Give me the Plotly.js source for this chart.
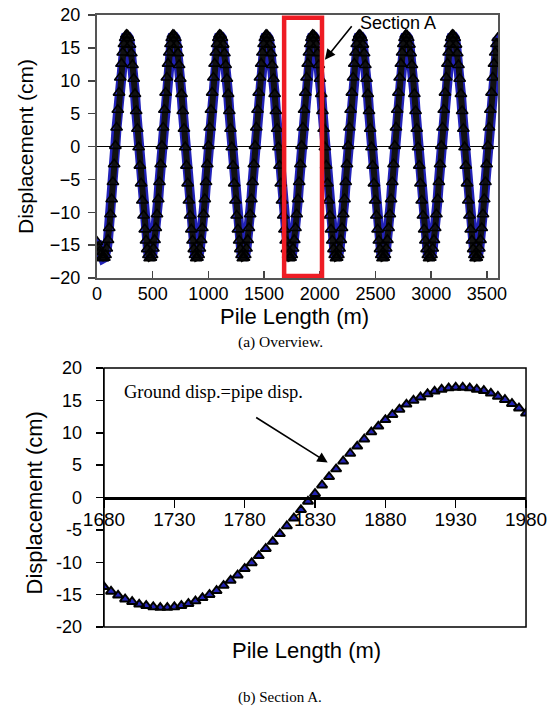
<!DOCTYPE html>
<html>
<head>
<meta charset="utf-8">
<script src="https://cdn.plot.ly/plotly-3.0.1.min.js"></script>
<style>
html,body{margin:0;padding:0;background:#fff;}
#chart{width:558px;height:708px;}
</style>
</head>
<body>
<div id="chart"></div>
<script>
// ---------- DATA ----------
// (a) Overview: displacement sampled every 11 m from 0 m (ground disp. = pipe disp.)
const overviewStartM = 0;
const overviewStepM = 11;
const overviewDisp = [
-14.5,-15.3,-16.0,-16.5,-16.9,-17.0,-16.9,-16.5,-15.5,-14.2,-12.4,-10.3,-8.0,-5.4,-2.7,0.1,2.9,5.6,8.2,10.5,12.6,14.3,15.6,16.5,17.0,16.9,16.5,15.5,14.2,12.4,10.3,8.0,5.4,2.7,-0.1,-2.9,-5.6,-8.2,
-10.5,-12.6,-14.3,-15.6,-16.5,-17.0,-16.9,-16.5,-15.5,-14.2,-12.4,-10.3,-8.0,-5.4,-2.7,0.1,2.9,5.6,8.2,10.5,12.6,14.3,15.6,16.5,17.0,16.9,16.5,15.5,14.2,12.4,10.3,8.0,5.4,2.7,-0.1,-2.9,-5.6,-8.2,
-10.5,-12.6,-14.3,-15.6,-16.5,-17.0,-16.9,-16.5,-15.5,-14.2,-12.4,-10.3,-8.0,-5.4,-2.7,0.1,2.9,5.6,8.2,10.5,12.6,14.3,15.6,16.5,17.0,16.9,16.5,15.5,14.2,12.4,10.3,8.0,5.4,2.7,-0.1,-2.9,-5.6,-8.2,
-10.5,-12.6,-14.3,-15.6,-16.5,-17.0,-16.9,-16.5,-15.5,-14.2,-12.4,-10.3,-8.0,-5.4,-2.7,0.1,2.9,5.6,8.2,10.5,12.6,14.3,15.6,16.5,17.0,16.9,16.5,15.5,14.2,12.4,10.3,8.0,5.4,2.7,-0.1,-2.9,-5.6,-8.2,
-10.5,-12.6,-14.3,-15.6,-16.5,-17.0,-16.9,-16.5,-15.5,-14.2,-12.4,-10.3,-8.0,-5.4,-2.7,0.1,2.9,5.6,8.2,10.5,12.6,14.3,15.6,16.5,17.0,16.9,16.5,15.5,14.2,12.4,10.3,8.0,5.4,2.7,-0.1,-2.9,-5.6,-8.2,
-10.5,-12.6,-14.3,-15.6,-16.5,-17.0,-16.9,-16.5,-15.5,-14.2,-12.4,-10.3,-8.0,-5.4,-2.7,0.1,2.9,5.6,8.2,10.5,12.6,14.3,15.6,16.5,17.0,16.9,16.5,15.5,14.2,12.4,10.3,8.0,5.4,2.7,-0.1,-2.9,-5.6,-8.2,
-10.5,-12.6,-14.3,-15.6,-16.5,-17.0,-16.9,-16.5,-15.5,-14.2,-12.4,-10.3,-8.0,-5.4,-2.7,0.1,2.9,5.6,8.2,10.5,12.6,14.3,15.6,16.5,17.0,16.9,16.5,15.5,14.2,12.4,10.3,8.0,5.4,2.7,-0.1,-2.9,-5.6,-8.2,
-10.5,-12.6,-14.3,-15.6,-16.5,-17.0,-16.9,-16.5,-15.5,-14.2,-12.4,-10.3,-8.0,-5.4,-2.7,0.1,2.9,5.6,8.2,10.5,12.6,14.3,15.6,16.5,17.0,16.9,16.5,15.5,14.2,12.4,10.3,8.0,5.4,2.7,-0.1,-2.9,-5.6,-8.2,
-10.5,-12.6,-14.3,-15.6,-16.5,-17.0,-16.9,-16.5,-15.5,-14.2,-12.4,-10.3,-8.0,-5.4,-2.7,0.1,2.9,5.6,8.2,10.5,12.6,14.3,15.6,16.5
];

// (b) Section A: pile length (m) and displacement (cm)
const sectionLength = [1680,1685,1690,1695,1700,1705,1710,1715,1720,1725,1730,1735,1740,1745,1750,1755,1760,1765,1770,1775,1780,1785,1790,1795,1800,1805,1810,1815,1820,1825,1830,1835,1840,1845,1850,1855,1860,1865,1870,1875,1880,1885,1890,1895,1900,1905,1910,1915,1920,1925,1930,1935,1940,1945,1950,1955,1960,1965,1970,1975,1980];
const sectionDisp = [-13.8,-14.5,-15.1,-15.7,-16.1,-16.5,-16.7,-16.9,-17.0,-17.0,-16.9,-16.7,-16.4,-16.0,-15.5,-15.0,-14.4,-13.6,-12.8,-12.0,-11.0,-10.1,-9.0,-7.9,-6.8,-5.6,-4.4,-3.2,-1.9,-0.6,0.6,1.9,3.2,4.4,5.6,6.8,7.9,9.0,10.1,11.0,12.0,12.8,13.6,14.4,15.0,15.5,16.0,16.4,16.7,16.9,17.0,17.0,16.9,16.7,16.5,16.1,15.6,15.1,14.5,13.8,13.0];

// Tick labels
const overviewXTicks = [0,500,1000,1500,2000,2500,3000,3500];
const dispTicks = [-20,-15,-10,-5,0,5,10,15,20];
const sectionXTicks = [1680,1730,1780,1830,1880,1930,1980];
const sectionYTickText = ['-20','-15','-10','-5','0','5','10','15','20'];

// Section A box in the overview
const sectionBoxX = [1680, 2020];
const sectionBoxY = [-19.7, 19.6];

// ---------- STYLES ----------
const SANS = 'Liberation Sans, Arial, sans-serif';
const SERIF = 'Liberation Serif, Times New Roman, serif';
const BLUE = '#2222b8';

const traces = [
  { type:'scatter', mode:'lines+markers', name:'Ground disp.',
    x0: overviewStartM, dx: overviewStepM, y: overviewDisp, xaxis:'x', yaxis:'y',
    line:{color:BLUE, width:10}, marker:{symbol:'triangle-up', size:11, color:BLUE} },
  { type:'scatter', mode:'lines+markers', name:'Pipe disp.',
    x0: overviewStartM, dx: overviewStepM, y: overviewDisp, xaxis:'x', yaxis:'y',
    line:{color:'#111', width:6}, marker:{symbol:'triangle-up-open', size:10, color:'#000', line:{width:1.6}} },
  { type:'scatter', mode:'markers', name:'Ground disp.',
    x: sectionLength, y: sectionDisp, xaxis:'x2', yaxis:'y2',
    marker:{symbol:'triangle-up', size:7, color:BLUE} },
  { type:'scatter', mode:'markers', name:'Pipe disp.',
    x: sectionLength, y: sectionDisp, xaxis:'x2', yaxis:'y2',
    marker:{symbol:'triangle-up-open', size:9, color:'#000', line:{width:2}} }
];

const tickFont = {family:SANS, size:18, color:'#000'};

const layout = {
  width:558, height:708,
  margin:{l:0,r:0,t:0,b:0},
  paper_bgcolor:'#fff', plot_bgcolor:'#fff',
  showlegend:false,
  xaxis:{domain:[0.1738,0.8925], range:[0,3600], anchor:'y',
    tickmode:'array', tickvals:overviewXTicks, ticks:'inside', ticklen:7, tickwidth:1.5, tickcolor:'#444',
    showline:true, linecolor:'#555', linewidth:2, mirror:true,
    showgrid:false, zeroline:false, tickfont:tickFont, ticklabelstandoff:-2},
  yaxis:{domain:[0.6073,0.9788], range:[-20,20], anchor:'x',
    tickmode:'array', tickvals:dispTicks, ticks:'outside', ticklen:7, tickwidth:1.5, tickcolor:'#444',
    showline:true, linecolor:'#555', linewidth:2, mirror:true,
    showgrid:false, zeroline:true, zerolinecolor:'#000', zerolinewidth:1.5, tickfont:tickFont, ticklabelstandoff:4},
  xaxis2:{domain:[0.1864,0.9427], range:[1680,1980], anchor:'free', position:0.2973,
    tickmode:'array', tickvals:sectionXTicks, ticks:'outside', ticklen:8, tickwidth:1.5, tickcolor:'#000',
    showline:true, linecolor:'#000', linewidth:3,
    showgrid:false, zeroline:false, tickfont:{family:SANS, size:19, color:'#000'}, ticklabelstandoff:-4},
  yaxis2:{domain:[0.1144,0.4802], range:[-20,20], anchor:'x2',
    tickmode:'array', tickvals:dispTicks, ticktext:sectionYTickText, ticks:'outside', ticklen:7, tickwidth:1.5, tickcolor:'#000',
    showline:true, linecolor:'#000', linewidth:1.5,
    showgrid:false, zeroline:false, tickfont:tickFont, ticklabelstandoff:10},
  shapes:[
    {type:'rect', xref:'x2 domain', yref:'y2 domain', x0:0, x1:1, y0:0, y1:1, line:{color:'#000', width:1.5}},
    {type:'rect', xref:'x', yref:'y', x0:sectionBoxX[0], x1:sectionBoxX[1], y0:sectionBoxY[0], y1:sectionBoxY[1],
     line:{color:'#ee1c24', width:4.5}}
  ],
  annotations:[
    {text:'Displacement (cm)', xref:'paper', yref:'paper', x:0.0466, y:0.7924, textangle:-90,
     showarrow:false, xanchor:'center', yanchor:'middle', font:{family:SANS, size:21, color:'#000'}},
    {text:'Pile Length (m)', xref:'paper', yref:'paper', x:0.527, y:0.5530,
     showarrow:false, xanchor:'center', yanchor:'middle', font:{family:SANS, size:22, color:'#000'}},
    {text:'(a) Overview.', xref:'paper', yref:'paper', x:0.5018, y:0.5169,
     showarrow:false, xanchor:'center', yanchor:'middle', font:{family:SERIF, size:15.5, color:'#000'}},
    {text:'Section A', xref:'paper', yref:'paper', x:0.6416, y:0.9675,
     showarrow:false, xanchor:'left', yanchor:'middle', font:{family:SANS, size:18, color:'#000'}},
    {text:'', xref:'x', yref:'y', x:2046, y:13.2, ax:28, ay:-35, showarrow:true,
     arrowhead:2, arrowsize:1.3, arrowwidth:1.6, arrowcolor:'#000'},
    {text:'Displacement (cm)', xref:'paper', yref:'paper', x:0.0609, y:0.2903, textangle:-90,
     showarrow:false, xanchor:'center', yanchor:'middle', font:{family:SANS, size:22, color:'#000'}},
    {text:'Pile Length (m)', xref:'paper', yref:'paper', x:0.5484, y:0.0819,
     showarrow:false, xanchor:'center', yanchor:'middle', font:{family:SANS, size:22, color:'#000'}},
    {text:'(b) Section A.', xref:'paper', yref:'paper', x:0.5018, y:0.0155,
     showarrow:false, xanchor:'center', yanchor:'middle', font:{family:SERIF, size:15, color:'#000'}},
    {text:'Ground disp.=pipe disp.', xref:'paper', yref:'paper', x:0.2186, y:0.4463,
     showarrow:false, xanchor:'left', yanchor:'middle', font:{family:SERIF, size:18.5, color:'#000'}},
    {text:'', xref:'x2', yref:'y2', x:1839, y:5.4, ax:-73, ay:-46, showarrow:true,
     arrowhead:2, arrowsize:1.3, arrowwidth:1.6, arrowcolor:'#000'}
  ]
};

Plotly.newPlot('chart', traces, layout, {staticPlot:true, displayModeBar:false});
</script>
</body>
</html>
